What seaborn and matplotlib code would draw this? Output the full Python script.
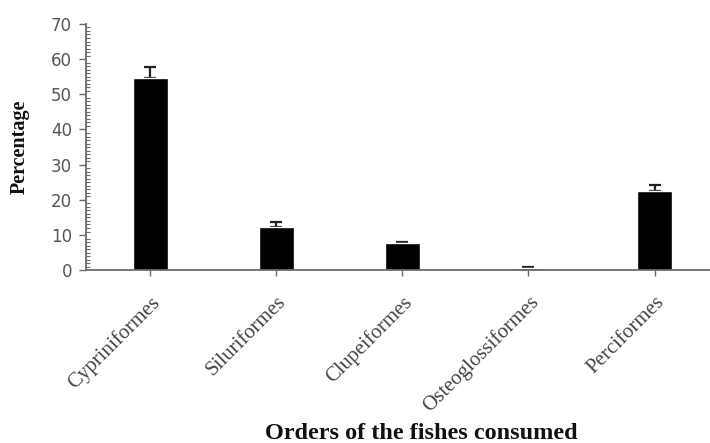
import numpy as np
import pandas as pd
import matplotlib
matplotlib.use("Agg")
import matplotlib.pyplot as plt
from matplotlib.ticker import MultipleLocator
import seaborn as sns

orders = ["Cypriniformes", "Siluriformes", "Clupeiformes", "Osteoglossiformes", "Perciformes"]
percentage = [54.6, 12.3, 7.6, 0.5, 22.4]
error = [3.2, 1.4, 0.4, 0.3, 1.7]
y_ticks = [0, 10, 20, 30, 40, 50, 60, 70]

sns.set_style("white")
plt.rcParams["font.family"] = ["Liberation Serif", "DejaVu Serif"]

df = pd.DataFrame({"order": orders, "pct": percentage})

fig = plt.figure(figsize=(7.1, 4.43), dpi=100)
ax = fig.add_axes([0.121, 0.39, 0.879, 0.556])

# error whiskers sit behind the bars so only the upper half shows
ax.errorbar(np.arange(len(orders)), percentage,
            yerr=[np.zeros(len(error)), error], fmt="none",
            ecolor="#222222", elinewidth=1.6, capsize=4, capthick=1.6,
            zorder=1)
sns.barplot(data=df, x="order", y="pct", color="black", width=0.275,
            errorbar=None, saturation=1, ax=ax, zorder=2)

ax.set_xlim(-0.51, 4.44)
ax.set_ylim(0, 70)
ax.set_yticks(y_ticks)
ax.yaxis.set_minor_locator(MultipleLocator(1))

for side in ["top", "right"]:
    ax.spines[side].set_visible(False)
for side in ["left", "bottom"]:
    ax.spines[side].set_color("#6a6a6a")
    ax.spines[side].set_linewidth(1.3)
    ax.spines[side].set_zorder(3)

ax.tick_params(axis="y", which="major", direction="out", length=5, width=1,
               color="#6a6a6a", left=True, pad=5)
ax.tick_params(axis="y", which="minor", direction="in", length=3, width=0.8,
               color="#6a6a6a", left=True)
ax.tick_params(axis="x", which="major", direction="out", length=4, width=1,
               color="#6a6a6a", bottom=True, pad=12)

for lab in ax.get_yticklabels():
    lab.set_fontfamily("DejaVu Sans")
    lab.set_fontsize(12)
    lab.set_color("#555555")

ax.set_xticks(np.arange(len(orders)))
ax.set_xticklabels(orders, rotation=45, ha="right", rotation_mode="anchor",
                   fontsize=15, color="#444444")

ax.set_ylabel("Percentage", fontsize=14.5, fontweight="bold", color="#111111")
ax.yaxis.set_label_coords(-0.09, 0.5)
ax.set_xlabel("Orders of the fishes consumed", fontsize=17.5, fontweight="bold",
              color="#111111")
ax.xaxis.set_label_coords(0.537, -0.62)

fig.savefig("out.png", dpi=100, facecolor="white")
